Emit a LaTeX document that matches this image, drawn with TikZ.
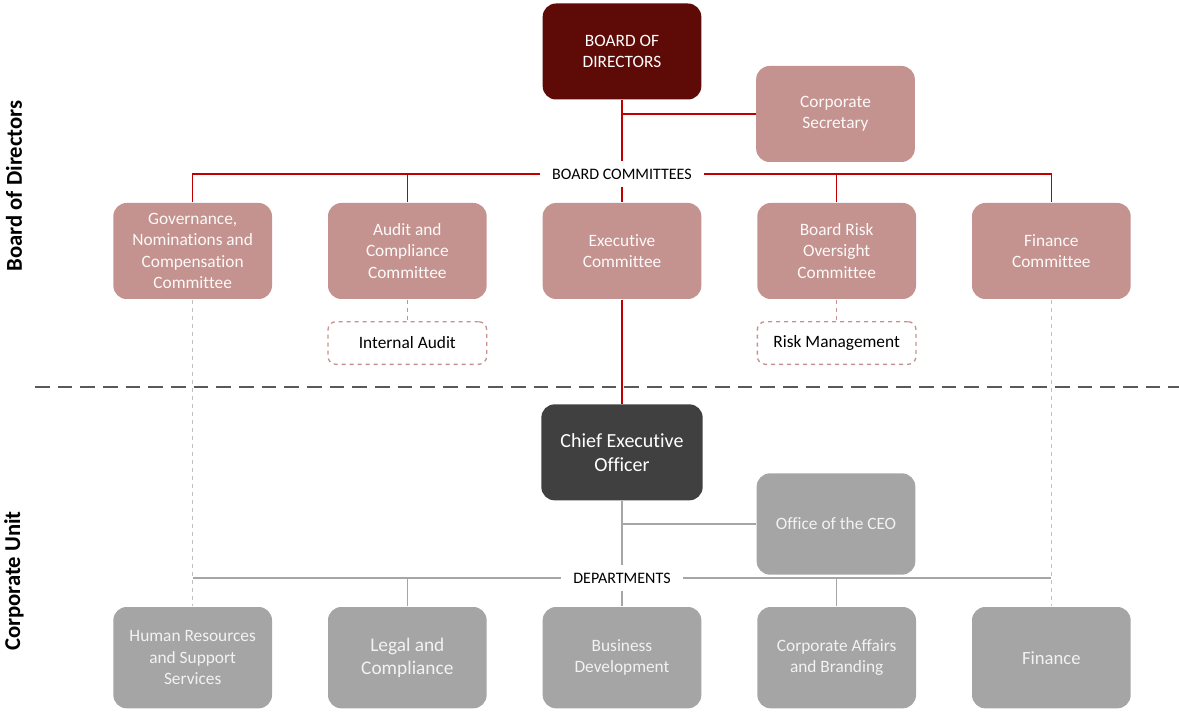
\documentclass[tikz,border=0pt]{standalone}
\usepackage{fontspec}
\setmainfont{Carlito}[Ligatures={NoCommon}]
\usepackage{tikz}

\definecolor{bodred}{HTML}{5E0B07}
\definecolor{rose}{HTML}{C4928F}
\definecolor{ceogray}{HTML}{404040}
\definecolor{unitgray}{HTML}{A5A5A5}
\definecolor{linered}{HTML}{C00000}
\definecolor{linegray}{HTML}{A6A6A6}
\definecolor{dashgray}{HTML}{BFBFBF}
\definecolor{sepgray}{HTML}{595959}

\begin{document}
\begin{tikzpicture}[x=0.75pt,y=-0.75pt,node distance=161pt,line width=1pt]
  \tikzstyle{box}=[rounded corners=10pt,minimum width=119pt,minimum height=72pt,align=center,text=white,font=\fontsize{13}{16}\selectfont]
  \tikzstyle{board}=[box,fill=bodred]
  \tikzstyle{comm}=[box,fill=rose,text=white!95!rose]
  \tikzstyle{chief}=[box,fill=ceogray,minimum width=121pt,font=\fontsize{15}{18}\selectfont]
  \tikzstyle{unit}=[box,fill=unitgray,minimum height=76pt,text=white!95!black]
  \tikzstyle{sub}=[rounded corners=6pt,draw=rose,dashed,minimum width=119pt,minimum height=32pt,font=\fontsize{13}{16}\selectfont]
  \tikzstyle{hdr}=[fill=white,inner xsep=9pt,inner ysep=5pt,font=\fontsize{12}{14}\selectfont]
  \tikzstyle{side}=[rotate=90,font=\bfseries\fontsize{17}{20}\selectfont]
  \tikzstyle{redline}=[draw=linered]
  \tikzstyle{grayline}=[draw=linegray]
  \tikzstyle{dotline}=[draw=dashgray,dashed]

  \useasboundingbox (0,0) rectangle (1179,713);

  \node[side] (bdlab) at (14,186) {Board of Directors};
  \node[side] (culab) at (14,581) {Corporate Unit};

  \node[board] (bod) at (622,51.5) {BOARD OF\\DIRECTORS};
  \node[comm]  (sec) at (835.5,114) {Corporate\\Secretary};
  \node[hdr]   (bc)  at (622,174) {BOARD COMMITTEES};

  \node[comm] (exec) at (622,251) {Executive\\Committee};
  \node[comm] (aud)  [left of=exec]  {Audit and\\Compliance\\Committee};
  \node[comm] (gov)  [left of=aud]   {Governance,\\Nominations and\\Compensation\\Committee};
  \node[comm] (risk) [right of=exec] {Board Risk\\Oversight\\Committee};
  \node[comm] (fin)  [right of=risk] {Finance\\Committee};

  \node[sub] (ia) [node distance=69pt,below of=aud]  {Internal Audit};
  \node[sub] (rm) [node distance=69pt,below of=risk] {Risk Management};

  \node[chief] (ceo)    [node distance=151pt,below of=exec] {Chief Executive\\Officer};
  \node[unit]  (office) at (836,524) {Office of the CEO};
  \node[hdr]   (dep)    at (622,578) {DEPARTMENTS};

  \node[unit] (bus)     [node distance=154pt,below of=ceo] {Business\\Development};
  \node[unit,font=\fontsize{14.5}{17.5}\selectfont] (legal) [left of=bus] {Legal and\\Compliance};
  \node[unit] (hr)      [left of=legal] {Human Resources\\and Support\\Services};
  \node[unit] (corp)    [right of=bus]  {Corporate Affairs\\and Branding};
  \node[unit,font=\fontsize{14}{17}\selectfont] (finance) [right of=corp] {Finance};

  \draw[draw=sepgray,line width=2.2pt,dash pattern=on 11pt off 6pt] (35,387) -- (1179,387);

  \draw[redline] (bod) -- (bc);
  \draw[redline] (bc) -- (exec);
  \draw[redline] (exec) -- (ceo);
  \draw[redline] (sec.west) -- (sec.west -| bod);
  \draw[redline] (aud.north) -- (aud.north |- bc);
  \draw[redline] (risk.north) -- (risk.north |- bc);
  \draw[redline] (gov.north) |- (bc.west);
  \draw[redline] (bc.east) -| (fin.north);

  \draw[draw=rose,dashed] (aud) -- (ia);
  \draw[draw=rose,dashed] (risk) -- (rm);

  \draw[grayline] (ceo) -- (dep);
  \draw[grayline] (dep) -- (bus);
  \draw[grayline] (office.west) -- (office.west -| ceo);
  \draw[grayline] (legal.north) -- (legal.north |- dep);
  \draw[grayline] (corp.north) -- (corp.north |- dep);
  \draw[grayline] (dep.west) -- (dep.west -| gov);
  \draw[grayline] (dep.east) -- (dep.east -| fin);

  \draw[dotline] (gov) -- (hr);
  \draw[dotline] (fin) -- (finance);
\end{tikzpicture}
\end{document}
